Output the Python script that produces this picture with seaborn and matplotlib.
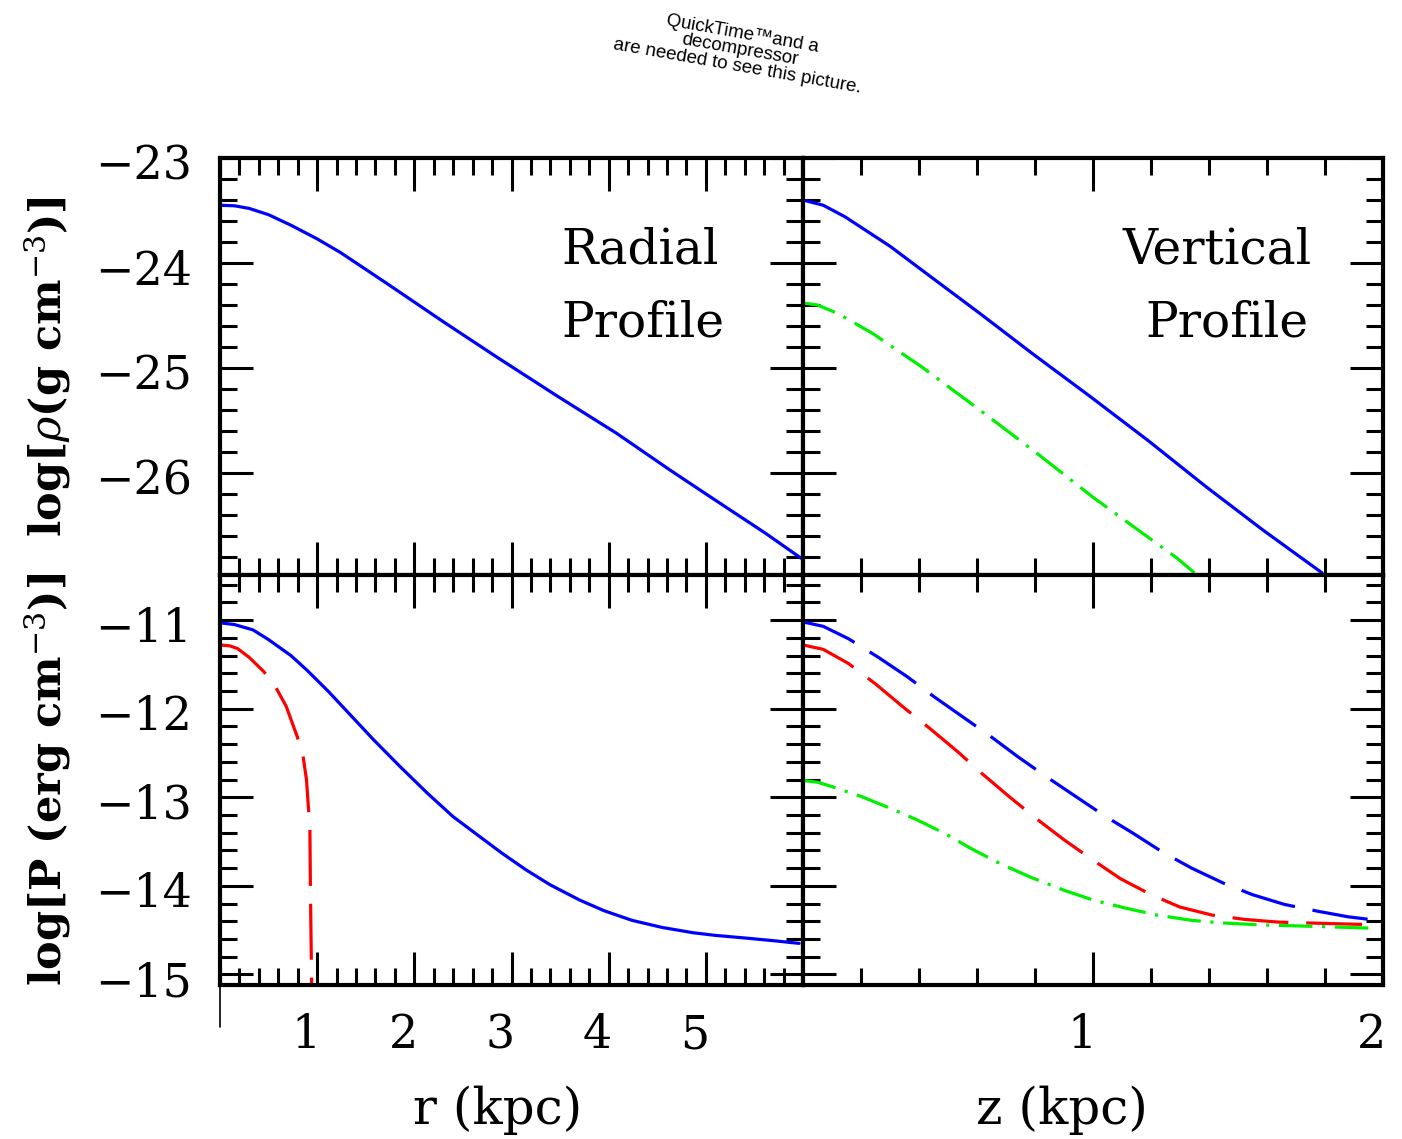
import numpy as np
import pandas as pd
import matplotlib
matplotlib.use("Agg")
import matplotlib.pyplot as plt
import matplotlib.transforms as mtransforms
from matplotlib.ticker import MultipleLocator, FixedLocator
from matplotlib.lines import Line2D
import seaborn as sns

# ---------------- data ----------------
# Top-left: radial density profile, log rho (g cm^-3) vs r (kpc)
rad_r   = [0.0, 0.15, 0.30, 0.50, 0.73, 1.00, 1.24, 1.71, 2.30, 2.84, 3.46, 4.08, 4.63, 5.02, 5.61, 5.98]
rad_rho = [-23.45, -23.455, -23.48, -23.54, -23.64, -23.77, -23.90, -24.19, -24.56, -24.89, -25.26, -25.62, -25.97, -26.21, -26.57, -26.81]

# Top-right: vertical density profile, log rho vs z (kpc)
ver_z_rho_blue = [0.0, 0.07, 0.145, 0.30, 0.45, 0.61, 0.79, 0.99, 1.19, 1.39, 1.585, 1.79]
ver_rho_blue   = [-23.40, -23.45, -23.56, -23.84, -24.15, -24.48, -24.86, -25.27, -25.69, -26.13, -26.54, -26.95]
ver_z_rho_green = [0.0, 0.05, 0.12, 0.24, 0.41, 0.61, 0.82, 1.00, 1.19, 1.29, 1.35]
ver_rho_green   = [-24.38, -24.40, -24.48, -24.67, -24.99, -25.40, -25.84, -26.23, -26.61, -26.81, -26.95]

# Bottom-left: radial pressure profile, log P (erg cm^-3) vs r (kpc)
rad_r_p_blue = [0.0, 0.15, 0.34, 0.50, 0.73, 0.90, 1.12, 1.35, 1.58, 1.85, 2.14, 2.40, 2.68,
                2.90, 3.15, 3.40, 3.70, 3.95, 4.24, 4.55, 4.87, 5.10, 5.41, 5.70, 5.96]
rad_p_blue   = [-11.03, -11.05, -11.11, -11.22, -11.40, -11.57, -11.81, -12.08, -12.35, -12.65,
                -12.96, -13.22, -13.45, -13.63, -13.82, -13.99, -14.16, -14.28, -14.39, -14.47,
                -14.53, -14.56, -14.59, -14.62, -14.65]
rad_r_p_red  = [0.0, 0.10, 0.18, 0.30, 0.45, 0.57, 0.68, 0.79, 0.85, 0.89, 0.91, 0.925, 0.93, 0.945]
rad_p_red    = [-11.28, -11.29, -11.32, -11.42, -11.58, -11.75, -11.97, -12.30, -12.50, -12.80,
                -13.12, -13.33, -13.97, -15.30]

# Bottom-right: vertical pressure profile, log P vs z (kpc)
ver_z_p_blue = [0.0, 0.07, 0.157, 0.26, 0.36, 0.45, 0.55, 0.65, 0.74, 0.84, 0.94, 1.04, 1.14,
                1.24, 1.34, 1.45, 1.55, 1.66, 1.78, 1.88, 1.98]
ver_p_blue   = [-11.02, -11.07, -11.21, -11.42, -11.64, -11.86, -12.09, -12.32, -12.54, -12.77,
                -12.99, -13.21, -13.41, -13.62, -13.80, -13.97, -14.10, -14.21, -14.29, -14.35, -14.39]
ver_z_p_red  = [0.0, 0.07, 0.157, 0.25, 0.345, 0.44, 0.535, 0.62, 0.71, 0.80, 0.90, 1.00, 1.095,
                1.20, 1.30, 1.41, 1.525, 1.64, 1.75, 1.86, 1.98]
ver_p_red    = [-11.28, -11.33, -11.49, -11.72, -11.98, -12.23, -12.49, -12.74, -12.99, -13.23,
                -13.48, -13.71, -13.92, -14.10, -14.24, -14.33, -14.38, -14.41, -14.42, -14.43, -14.44]
ver_z_p_green = [0.0, 0.05, 0.10, 0.20, 0.29, 0.39, 0.49, 0.58, 0.68, 0.79, 0.90, 1.00, 1.11,
                 1.22, 1.34, 1.45, 1.57, 1.68, 1.78, 1.88, 1.98]
ver_p_green   = [-12.81, -12.83, -12.88, -12.99, -13.11, -13.25, -13.41, -13.58, -13.75, -13.91,
                 -14.05, -14.16, -14.25, -14.33, -14.39, -14.42, -14.44, -14.45, -14.46, -14.47, -14.48]

rho_ticks = [-23, -24, -25, -26]
p_ticks = [-11, -12, -13, -14, -15]
r_ticks = [1, 2, 3, 4, 5]
z_ticks = [1, 2]

# ---------------- style ----------------
sns.set_theme(style="ticks")
plt.rcParams["font.family"] = ["DejaVu Serif", "DejaVu Sans"]
plt.rcParams["mathtext.fontset"] = "dejavuserif"
for k in ("text.color", "axes.labelcolor", "xtick.color", "ytick.color", "axes.edgecolor"):
    plt.rcParams[k] = "black"

W, H = 1402, 1139
fig = plt.figure(figsize=(W / 100, H / 100), dpi=100)
fig.patch.set_facecolor("white")


def box(x0, y0, x1, y1):
    return [x0 / W, 1 - y1 / H, (x1 - x0) / W, (y1 - y0) / H]


ax_tl = fig.add_axes(box(220, 158, 803, 575))
ax_tr = fig.add_axes(box(803, 158, 1383, 575))
ax_bl = fig.add_axes(box(220, 575, 803, 985))
ax_br = fig.add_axes(box(803, 575, 1383, 985))

LW = 2.3
DASH = (0, (17.5, 5.6))
DASHDOT = (0, (10.5, 3.0, 1.0, 3.0))
BLUE, RED, GREEN = "#0000ff", "#ff0000", "#00f000"


def line(ax, x, y, color, ls="-"):
    sns.lineplot(x=x, y=y, ax=ax, color=color, lw=LW, linestyle=ls,
                 sort=False, estimator=None)


line(ax_tl, rad_r, rad_rho, BLUE)
line(ax_tr, ver_z_rho_blue, ver_rho_blue, BLUE)
line(ax_tr, ver_z_rho_green, ver_rho_green, GREEN, DASHDOT)
line(ax_bl, rad_r_p_blue, rad_p_blue, BLUE)
line(ax_bl, rad_r_p_red, rad_p_red, RED, DASH)
line(ax_br, ver_z_p_blue, ver_p_blue, BLUE, DASH)
line(ax_br, ver_z_p_red, ver_p_red, RED, DASH)
line(ax_br, ver_z_p_green, ver_p_green, GREEN, DASHDOT)

for ax in (ax_tl, ax_tr, ax_bl, ax_br):
    ax.set_facecolor("white")
    ax.set_xlabel("")
    ax.set_ylabel("")
    for s in ax.spines.values():
        s.set_visible(True)
        s.set_linewidth(3.0)
        s.set_color("black")
    ax.tick_params(which="both", direction="in", top=True, bottom=True,
                   left=True, right=True, color="black", labelcolor="black",
                   width=2.2, labelbottom=False, labelleft=False, labelsize=33,
                   pad=20)
    ax.tick_params(which="major", length=24)
    ax.tick_params(which="minor", length=12)
    ax.yaxis.set_minor_locator(MultipleLocator(0.2))
    ax.xaxis.set_minor_locator(MultipleLocator(0.2))
    ax.grid(False)

for ax in (ax_tl, ax_bl):
    ax.set_xlim(0, 6)
    ax.xaxis.set_major_locator(FixedLocator(r_ticks))
for ax in (ax_tr, ax_br):
    ax.set_xlim(0, 2)
    ax.xaxis.set_major_locator(FixedLocator(z_ticks))
for ax in (ax_tl, ax_tr):
    ax.set_ylim(-26.97, -23.0)
    ax.yaxis.set_major_locator(FixedLocator(rho_ticks))
for ax in (ax_bl, ax_br):
    ax.set_ylim(-15.12, -10.49)
    ax.yaxis.set_major_locator(FixedLocator(p_ticks))

ax_tl.tick_params(labelleft=True)
ax_tl.set_yticklabels([f"\u2212{abs(v)}" for v in rho_ticks])
ax_bl.tick_params(labelleft=True, labelbottom=True)
ax_bl.set_yticklabels([f"\u2212{abs(v)}" for v in p_ticks])
ax_bl.set_xticklabels([str(v) for v in r_ticks])
ax_br.tick_params(labelbottom=True)
ax_br.set_xticklabels([str(v) for v in z_ticks])

# the original's x tick labels sit slightly left of their ticks,
# and the y tick labels slightly below theirs
xshift = mtransforms.ScaledTranslation(-11 / 100, 0, fig.dpi_scale_trans)
yshift = mtransforms.ScaledTranslation(0, -4 / 100, fig.dpi_scale_trans)
for ax in (ax_bl, ax_br):
    for lab in ax.get_xticklabels():
        lab.set_transform(lab.get_transform() + xshift)
for ax in (ax_tl, ax_bl):
    for lab in ax.get_yticklabels():
        lab.set_transform(lab.get_transform() + yshift)

# panel titles
ax_tl.text(0.585, 0.748, "Radial", transform=ax_tl.transAxes, fontsize=35,
           ha="left", va="baseline", color="black")
ax_tl.text(0.585, 0.571, "Profile", transform=ax_tl.transAxes, fontsize=35,
           ha="left", va="baseline", color="black")
ax_tr.text(0.55, 0.748, "Vertical", transform=ax_tr.transAxes, fontsize=35,
           ha="left", va="baseline", color="black")
ax_tr.text(0.59, 0.571, "Profile", transform=ax_tr.transAxes, fontsize=35,
           ha="left", va="baseline", color="black")

# axis labels
fig.text(498 / W, 1 - 1110 / H, "r (kpc)", fontsize=36, ha="center", va="center")
fig.text(1062 / W, 1 - 1110 / H, "z (kpc)", fontsize=36, ha="center", va="center")
fig.text(48 / W, 1 - 367 / H, r"log[$\rho$(g cm$^{-3}$)]", fontsize=31,
         fontweight="bold", rotation=90, ha="center", va="center")
fig.text(48 / W, 1 - 779 / H, r"log[P (erg cm$^{-3}$)]", fontsize=31,
         fontweight="bold", rotation=90, ha="center", va="center")

# QuickTime placeholder text
fig.text(740 / W, 1 - 50 / H,
         "QuickTime\u2122and a\ndecompressor\nare needed to see this picture.",
         family=["Liberation Sans Narrow", "Liberation Sans", "DejaVu Sans"],
         fontsize=13.5, rotation=-10, rotation_mode="anchor",
         ha="center", va="center", multialignment="center", linespacing=0.95)

# small stray line under the lower-left frame
fig.add_artist(Line2D([220 / W, 220 / W], [1 - 985 / H, 1 - 1027 / H],
                      color="black", lw=1.2))

fig.savefig("out.png", dpi=100, facecolor="white")
